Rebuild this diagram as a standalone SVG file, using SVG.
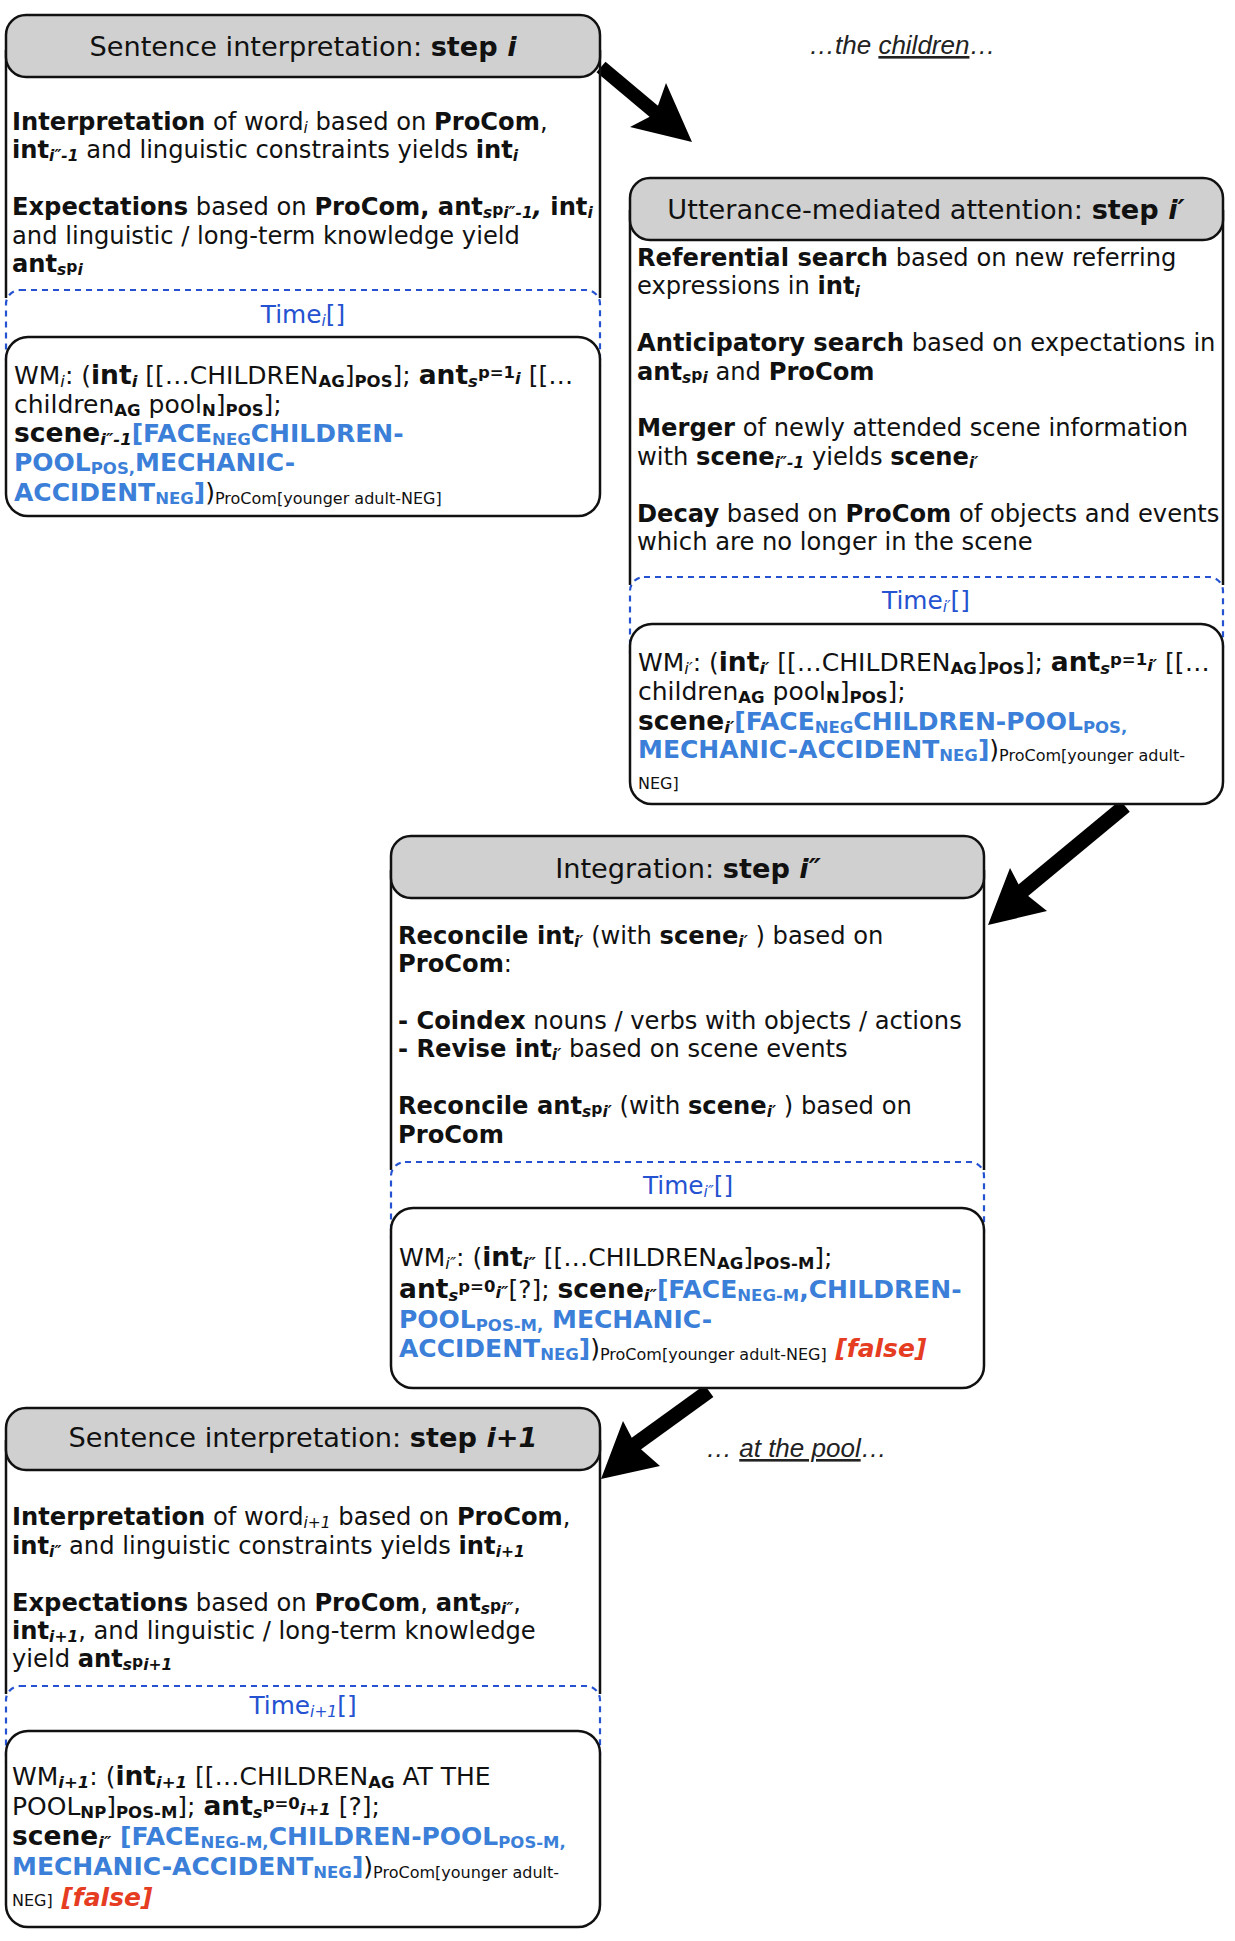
<svg xmlns="http://www.w3.org/2000/svg" width="1235" height="1941" viewBox="0 0 1235 1941">
<style>
text{font-family:"DejaVu Sans",Verdana,sans-serif;font-size:24.2px;fill:#111}
.ttl{font-size:27.2px}
.b{font-weight:bold}
.bi{font-weight:bold;font-style:italic}
.sb{font-size:15.5px;font-weight:bold;font-style:italic}
.si{font-size:15.5px;font-style:italic}
.sbn{font-size:15.5px;font-weight:bold}
.sm{font-size:15.5px}
.w{font-size:25px}
.w .sb,.w .si,.w .sbn{font-size:16.5px}
.w .sm{font-size:16px}
.big{font-size:26.5px;font-weight:bold}
.blue{fill:#3b7fd9;font-weight:bold}
.red{fill:#e53c22;font-weight:bold;font-style:italic}
.time{fill:#2552d0;font-size:24.8px}
.ann{font-family:"Liberation Sans",Arial,sans-serif;font-style:italic;font-size:26px;fill:#222}
.hdr{fill:#d0d0d0;stroke:#111;stroke-width:2.5}
.side{fill:none;stroke:#111;stroke-width:2.5}
.dash{fill:none;stroke:#2552d0;stroke-width:2.2;stroke-dasharray:6 5}
.wm{fill:#fff;stroke:#111;stroke-width:2.5}
.shaft{stroke:#000;fill:none}
</style>

<g id="connectors">
<line class="shaft" x1="601" y1="67" x2="657" y2="114" stroke-width="14"/>
<polygon points="692,142 630,127 655,114 666,83" fill="#000"/>
<line class="shaft" x1="1125" y1="806" x2="1020" y2="893" stroke-width="15"/>
<polygon points="988,925 1010,868 1022,891 1047,911" fill="#000"/>
<line class="shaft" x1="709" y1="1391" x2="633" y2="1446" stroke-width="15"/>
<polygon points="601,1479 623,1421 635,1444 660,1466" fill="#000"/>
</g>

<g id="annotations">
<text class="ann" x="809" y="54">…the <tspan text-decoration="underline">children</tspan>…</text>
<text class="ann" x="706" y="1457">… <tspan text-decoration="underline">at the pool</tspan>…</text>
</g>

<g id="node-step-i">
<path class="side" d="M6,50 V298 M600,50 V298"/>
<rect class="hdr" x="6" y="15" width="594" height="62" rx="20"/>
<text class="ttl" x="303" y="56" text-anchor="middle">Sentence interpretation: <tspan class="b">step </tspan><tspan class="bi">i</tspan></text>
<text x="12" y="130"><tspan class="b">Interpretation</tspan> of word<tspan class="si" dy="3">i</tspan><tspan dy="-3"> based on </tspan><tspan class="b">ProCom</tspan>,</text>
<text x="12" y="158"><tspan class="b">int</tspan><tspan class="sb" dy="3">i″-1</tspan><tspan dy="-3"> and linguistic constraints yields </tspan><tspan class="b">int</tspan><tspan class="sb" dy="3">i</tspan></text>
<text x="12" y="215"><tspan class="b">Expectations</tspan> based on <tspan class="b">ProCom, ant</tspan><tspan class="sb" dy="3">s</tspan><tspan class="sbn" dy="-3">p</tspan><tspan class="sb" dy="3">i″-1</tspan><tspan class="bi" dy="-3">, </tspan><tspan class="b">int</tspan><tspan class="sb" dy="3">i</tspan></text>
<text x="12" y="244">and linguistic / long-term knowledge yield</text>
<text x="12" y="272"><tspan class="b">ant</tspan><tspan class="sb" dy="3">s</tspan><tspan class="sbn" dy="-3">p</tspan><tspan class="sb" dy="3">i</tspan></text>
<rect class="dash" x="6" y="290" width="594" height="90" rx="14"/>
<text class="time" x="303" y="323" text-anchor="middle">Time<tspan class="si" dy="3">i</tspan><tspan dy="-3">[]</tspan></text>
<rect class="wm" x="6" y="337" width="594" height="179" rx="22"/>
<text class="w" x="14" y="384">WM<tspan class="si" dy="3">i</tspan><tspan dy="-3">: (</tspan><tspan class="big">int</tspan><tspan class="sb" dy="3">i</tspan><tspan dy="-3"> [[…CHILDREN</tspan><tspan class="sbn" dy="3">AG</tspan><tspan dy="-3">]</tspan><tspan class="sbn" dy="3">POS</tspan><tspan dy="-3">]; </tspan><tspan class="big">ant</tspan><tspan class="sb" dy="3">s</tspan><tspan class="sbn" dy="-9">p=1</tspan><tspan class="sb" dy="6">i</tspan><tspan> [[…</tspan></text>
<text class="w" x="14" y="413">children<tspan class="sbn" dy="3">AG</tspan><tspan dy="-3"> pool</tspan><tspan class="sbn" dy="3">N</tspan><tspan dy="-3">]</tspan><tspan class="sbn" dy="3">POS</tspan><tspan dy="-3">];</tspan></text>
<text class="w" x="14" y="442"><tspan class="big">scene</tspan><tspan class="sb" dy="3">i″-1</tspan><tspan class="blue" dy="-3">[FACE</tspan><tspan class="blue sbn" dy="3">NEG</tspan><tspan class="blue" dy="-3">CHILDREN-</tspan></text>
<text class="w" x="14" y="471"><tspan class="blue">POOL</tspan><tspan class="blue sbn" dy="3">POS,</tspan><tspan class="blue" dy="-3">MECHANIC-</tspan></text>
<text class="w" x="14" y="501"><tspan class="blue">ACCIDENT</tspan><tspan class="blue sbn" dy="3">NEG</tspan><tspan class="blue" dy="-3">]</tspan>)<tspan class="sm" dy="3">ProCom[younger adult-NEG]</tspan></text>
</g>

<g id="node-step-i-prime">
<path class="side" d="M630,210 V585 M1223,210 V585"/>
<rect class="hdr" x="630" y="178" width="593" height="62" rx="20"/>
<text class="ttl" x="926" y="219" text-anchor="middle">Utterance-mediated attention: <tspan class="b">step </tspan><tspan class="bi">i′</tspan></text>
<text x="637" y="266"><tspan class="b">Referential search</tspan> based on new referring</text>
<text x="637" y="294">expressions in <tspan class="b">int</tspan><tspan class="sb" dy="3">i</tspan></text>
<text x="637" y="351"><tspan class="b">Anticipatory search</tspan> based on expectations in</text>
<text x="637" y="380"><tspan class="b">ant</tspan><tspan class="sb" dy="3">s</tspan><tspan class="sbn" dy="-3">p</tspan><tspan class="sb" dy="3">i</tspan><tspan dy="-3"> and </tspan><tspan class="b">ProCom</tspan></text>
<text x="637" y="436"><tspan class="b">Merger</tspan> of newly attended scene information</text>
<text x="637" y="465">with <tspan class="b">scene</tspan><tspan class="sb" dy="3">i″-1</tspan><tspan dy="-3"> yields </tspan><tspan class="b">scene</tspan><tspan class="sb" dy="3">i′</tspan></text>
<text x="637" y="522"><tspan class="b">Decay</tspan> based on <tspan class="b">ProCom</tspan> of objects and events</text>
<text x="637" y="550">which are no longer in the scene</text>
<rect class="dash" x="630" y="577" width="593" height="90" rx="14"/>
<text class="time" x="926" y="609" text-anchor="middle">Time<tspan class="si" dy="3">i′</tspan><tspan dy="-3">[]</tspan></text>
<rect class="wm" x="630" y="624" width="593" height="180" rx="22"/>
<text class="w" x="638" y="671">WM<tspan class="si" dy="3">i′</tspan><tspan dy="-3">: (</tspan><tspan class="big">int</tspan><tspan class="sb" dy="3">i′</tspan><tspan dy="-3"> [[…CHILDREN</tspan><tspan class="sbn" dy="3">AG</tspan><tspan dy="-3">]</tspan><tspan class="sbn" dy="3">POS</tspan><tspan dy="-3">]; </tspan><tspan class="big">ant</tspan><tspan class="sb" dy="3">s</tspan><tspan class="sbn" dy="-9">p=1</tspan><tspan class="sb" dy="6">i′</tspan><tspan> [[…</tspan></text>
<text class="w" x="638" y="700">children<tspan class="sbn" dy="3">AG</tspan><tspan dy="-3"> pool</tspan><tspan class="sbn" dy="3">N</tspan><tspan dy="-3">]</tspan><tspan class="sbn" dy="3">POS</tspan><tspan dy="-3">];</tspan></text>
<text class="w" x="638" y="730"><tspan class="big">scene</tspan><tspan class="sb" dy="3">i′</tspan><tspan class="blue" dy="-3">[FACE</tspan><tspan class="blue sbn" dy="3">NEG</tspan><tspan class="blue" dy="-3">CHILDREN-POOL</tspan><tspan class="blue sbn" dy="3">POS,</tspan></text>
<text class="w" x="638" y="758"><tspan class="blue">MECHANIC-ACCIDENT</tspan><tspan class="blue sbn" dy="3">NEG</tspan><tspan class="blue" dy="-3">]</tspan>)<tspan class="sm" dy="3">ProCom[younger adult-</tspan></text>
<text class="w" x="638" y="789"><tspan class="sm">NEG]</tspan></text>
</g>

<g id="node-step-i-double-prime">
<path class="side" d="M391,870 V1170 M984,870 V1170"/>
<rect class="hdr" x="391" y="836" width="593" height="62" rx="20"/>
<text class="ttl" x="688" y="878" text-anchor="middle">Integration: <tspan class="b">step </tspan><tspan class="bi">i″</tspan></text>
<text x="398" y="944"><tspan class="b">Reconcile int</tspan><tspan class="sb" dy="3">i′</tspan><tspan dy="-3"> (with </tspan><tspan class="b">scene</tspan><tspan class="sb" dy="3">i′</tspan><tspan dy="-3"> ) based on</tspan></text>
<text x="398" y="972"><tspan class="b">ProCom</tspan>:</text>
<text x="398" y="1029"><tspan class="b">- Coindex</tspan> nouns / verbs with objects / actions</text>
<text x="398" y="1057"><tspan class="b">- Revise int</tspan><tspan class="sb" dy="3">i′</tspan><tspan dy="-3"> based on scene events</tspan></text>
<text x="398" y="1114"><tspan class="b">Reconcile ant</tspan><tspan class="sb" dy="3">s</tspan><tspan class="sbn" dy="-3">p</tspan><tspan class="sb" dy="3">i′</tspan><tspan dy="-3"> (with </tspan><tspan class="b">scene</tspan><tspan class="sb" dy="3">i′</tspan><tspan dy="-3"> ) based on</tspan></text>
<text x="398" y="1143"><tspan class="b">ProCom</tspan></text>
<rect class="dash" x="391" y="1162" width="593" height="90" rx="14"/>
<text class="time" x="688" y="1194" text-anchor="middle">Time<tspan class="si" dy="3">i″</tspan><tspan dy="-3">[]</tspan></text>
<rect class="wm" x="391" y="1208" width="593" height="180" rx="22"/>
<text class="w" x="399" y="1266">WM<tspan class="si" dy="3">i″</tspan><tspan dy="-3">: (</tspan><tspan class="big">int</tspan><tspan class="sb" dy="3">i″</tspan><tspan dy="-3"> [[…CHILDREN</tspan><tspan class="sbn" dy="3">AG</tspan><tspan dy="-3">]</tspan><tspan class="sbn" dy="3">POS-M</tspan><tspan dy="-3">];</tspan></text>
<text class="w" x="399" y="1298"><tspan class="big">ant</tspan><tspan class="sb" dy="3">s</tspan><tspan class="sbn" dy="-9">p=0</tspan><tspan class="sb" dy="6">i″</tspan><tspan>[?]; </tspan><tspan class="big">scene</tspan><tspan class="sb" dy="3">i″</tspan><tspan class="blue" dy="-3">[FACE</tspan><tspan class="blue sbn" dy="3">NEG-M</tspan><tspan class="blue" dy="-3">,CHILDREN-</tspan></text>
<text class="w" x="399" y="1328"><tspan class="blue">POOL</tspan><tspan class="blue sbn" dy="3">POS-M,</tspan><tspan class="blue" dy="-3"> MECHANIC-</tspan></text>
<text class="w" x="399" y="1357"><tspan class="blue">ACCIDENT</tspan><tspan class="blue sbn" dy="3">NEG</tspan><tspan class="blue" dy="-3">]</tspan>)<tspan class="sm" dy="3">ProCom[younger adult-NEG]</tspan><tspan class="red" dy="-3"> [false]</tspan></text>
</g>

<g id="node-step-i-plus-1">
<path class="side" d="M6,1440 V1694 M600,1440 V1694"/>
<rect class="hdr" x="6" y="1408" width="594" height="62" rx="20"/>
<text class="ttl" x="303" y="1447" text-anchor="middle">Sentence interpretation: <tspan class="b">step </tspan><tspan class="bi">i+1</tspan></text>
<text x="12" y="1525"><tspan class="b">Interpretation</tspan> of word<tspan class="si" dy="3">i+1</tspan><tspan dy="-3"> based on </tspan><tspan class="b">ProCom</tspan>,</text>
<text x="12" y="1554"><tspan class="b">int</tspan><tspan class="sb" dy="3">i″</tspan><tspan dy="-3"> and linguistic constraints yields </tspan><tspan class="b">int</tspan><tspan class="sb" dy="3">i+1</tspan></text>
<text x="12" y="1611"><tspan class="b">Expectations</tspan> based on <tspan class="b">ProCom</tspan>, <tspan class="b">ant</tspan><tspan class="sb" dy="3">s</tspan><tspan class="sbn" dy="-3">p</tspan><tspan class="sb" dy="3">i″</tspan><tspan dy="-3">,</tspan></text>
<text x="12" y="1639"><tspan class="b">int</tspan><tspan class="sb" dy="3">i+1</tspan><tspan dy="-3">, and linguistic / long-term knowledge</tspan></text>
<text x="12" y="1667">yield <tspan class="b">ant</tspan><tspan class="sb" dy="3">s</tspan><tspan class="sbn" dy="-3">p</tspan><tspan class="sb" dy="3">i+1</tspan></text>
<rect class="dash" x="6" y="1686" width="594" height="90" rx="14"/>
<text class="time" x="303" y="1714" text-anchor="middle">Time<tspan class="si" dy="3">i+1</tspan><tspan dy="-3">[]</tspan></text>
<rect class="wm" x="6" y="1731" width="594" height="196" rx="22"/>
<text class="w" x="12" y="1785">WM<tspan class="sb" dy="3">i+1</tspan><tspan dy="-3">: (</tspan><tspan class="big">int</tspan><tspan class="sb" dy="3">i+1</tspan><tspan dy="-3"> [[…CHILDREN</tspan><tspan class="sbn" dy="3">AG</tspan><tspan dy="-3"> AT THE</tspan></text>
<text class="w" x="12" y="1815">POOL<tspan class="sbn" dy="3">NP</tspan><tspan dy="-3">]</tspan><tspan class="sbn" dy="3">POS-M</tspan><tspan dy="-3">]; </tspan><tspan class="big">ant</tspan><tspan class="sb" dy="3">s</tspan><tspan class="sbn" dy="-9">p=0</tspan><tspan class="sb" dy="6">i+1</tspan><tspan> [?];</tspan></text>
<text class="w" x="12" y="1845"><tspan class="big">scene</tspan><tspan class="sb" dy="3">i″</tspan><tspan class="blue" dy="-3"> [FACE</tspan><tspan class="blue sbn" dy="3">NEG-M,</tspan><tspan class="blue" dy="-3">CHILDREN-POOL</tspan><tspan class="blue sbn" dy="3">POS-M,</tspan></text>
<text class="w" x="12" y="1875"><tspan class="blue">MECHANIC-ACCIDENT</tspan><tspan class="blue sbn" dy="3">NEG</tspan><tspan class="blue" dy="-3">]</tspan>)<tspan class="sm" dy="3">ProCom[younger adult-</tspan></text>
<text class="w" x="12" y="1906"><tspan class="sm">NEG]</tspan><tspan class="red"> [false]</tspan></text>
</g>
</svg>
